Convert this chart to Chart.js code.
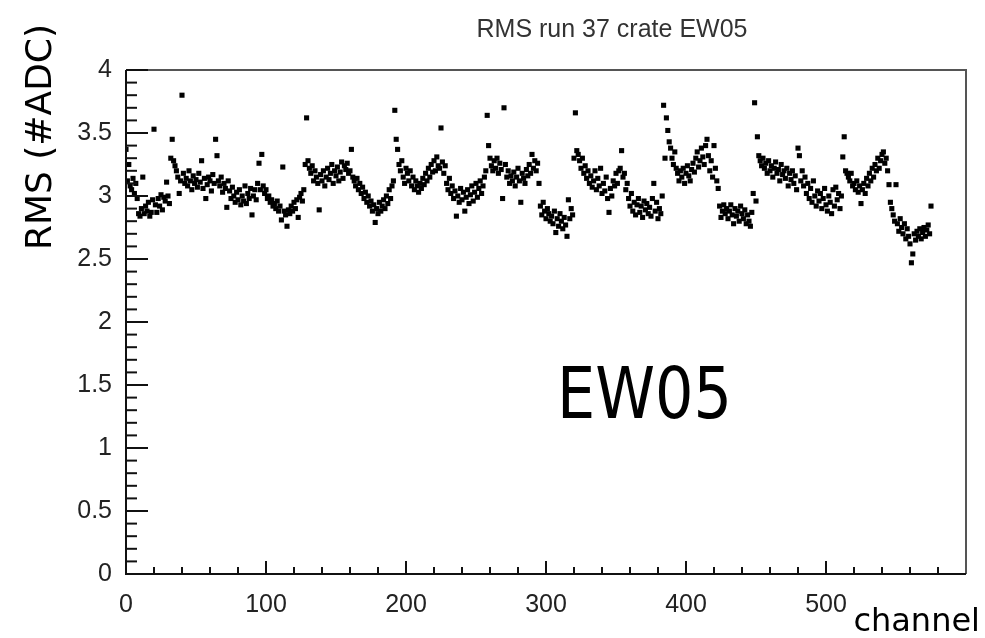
<!DOCTYPE html>
<html>
<head>
<meta charset="utf-8">
<script src="https://cdn.jsdelivr.net/npm/chart.js@4/dist/chart.umd.min.js"></script>
<style>
  html, body { margin: 0; padding: 0; background: #fff; }
  #wrap { width: 985px; height: 638px; }
</style>
</head>
<body>
<div id="wrap"><canvas id="rms"></canvas></div>
<script>
// RMS per channel in blocks of 32 channels
const seg0   = [3.37,3.12,3.25,3.08,3.05,3.14,3.02,3.10,2.98,2.86,2.84,2.90,3.15,2.86,2.92,2.88,2.95,2.84,2.87,2.97,3.53,2.93,2.87,2.98,2.92,3.01,2.89,2.99,2.96,3.11,3.00,2.94];
const seg32  = [3.30,3.45,3.28,3.24,3.20,3.15,3.02,3.12,3.80,3.18,3.10,3.14,3.08,3.20,3.12,3.05,3.16,3.10,3.13,3.07,3.18,3.11,3.28,3.06,3.14,2.98,3.09,3.15,3.12,3.04,3.17,3.10];
const seg64  = [3.45,3.32,3.12,3.08,3.15,3.03,3.10,3.06,2.91,3.12,3.04,2.98,3.07,3.00,2.95,3.03,2.97,3.05,2.93,3.00,2.96,3.08,2.94,3.02,2.98,3.06,2.85,3.00,3.05,2.97,3.10,3.26];
const seg96  = [3.05,3.33,3.08,3.02,3.05,2.98,3.00,2.95,2.97,2.92,2.94,2.90,2.96,2.88,2.92,2.81,3.23,2.88,2.85,2.76,2.89,2.86,2.92,2.88,2.95,2.90,2.97,2.83,2.99,3.02,2.96,3.05];
const seg128 = [3.25,3.62,3.28,3.22,3.18,3.24,3.12,3.20,3.15,3.10,2.89,3.17,3.12,3.20,3.08,3.15,3.22,3.13,3.18,3.25,3.10,3.20,3.16,3.23,3.12,3.19,3.27,3.14,3.24,3.21,3.26,3.18];
const seg160 = [3.20,3.37,3.15,3.12,3.08,3.14,3.05,3.10,3.02,3.07,2.98,3.03,2.95,3.00,2.92,2.96,2.88,2.93,2.79,2.90,2.86,2.95,2.88,2.92,2.97,2.90,3.00,2.94,3.05,2.98,3.08,3.12];
const seg192 = [3.68,3.45,3.37,3.25,3.20,3.28,3.15,3.10,3.22,3.18,3.12,3.20,3.08,3.15,3.05,3.12,3.08,3.03,3.10,3.06,3.14,3.09,3.18,3.12,3.22,3.15,3.25,3.19,3.28,3.20,3.31,3.24];
const seg224 = [3.22,3.54,3.27,3.18,3.24,3.10,3.05,3.14,3.02,3.08,2.98,3.04,2.84,3.00,2.95,3.06,2.97,3.03,2.88,2.99,3.05,2.94,3.01,3.08,2.96,3.03,3.10,2.99,3.06,3.12,3.02,3.08];
const seg256 = [3.15,3.20,3.64,3.40,3.30,3.24,3.20,3.28,3.22,3.30,3.18,3.26,3.21,2.98,3.70,3.25,3.15,3.20,3.10,3.16,3.12,3.19,3.08,3.15,3.22,3.12,2.95,3.18,3.14,3.10,3.21,3.16];
const seg288 = [3.25,3.18,3.33,3.22,3.28,3.20,3.26,3.10,2.92,2.85,2.95,2.88,2.82,2.90,2.86,2.80,2.84,2.78,2.88,2.71,2.82,2.76,2.86,2.80,2.74,2.83,2.77,2.68,2.97,2.82,2.90,2.85];
const seg320 = [3.30,3.66,3.36,3.33,3.28,3.22,3.30,3.18,3.24,3.14,3.20,3.10,3.16,3.07,3.12,3.20,3.05,3.14,3.08,3.22,3.02,3.10,3.04,3.15,2.98,2.87,3.06,3.00,3.12,3.08,3.18,3.10];
const seg352 = [3.20,3.22,3.36,3.15,3.18,3.05,3.10,2.98,2.92,3.02,2.88,2.95,2.85,2.93,2.98,2.87,2.92,2.83,2.96,2.89,2.94,2.86,2.91,2.84,2.98,3.10,2.88,2.95,2.82,2.90,2.86,3.00];
const seg384 = [3.72,3.30,3.62,3.52,3.43,3.38,3.30,3.25,3.35,3.22,3.18,3.12,3.20,3.15,3.22,3.10,3.18,3.24,3.16,3.12,3.21,3.26,3.19,3.30,3.35,3.23,3.28,3.38,3.31,3.25,3.40,3.45];
const seg416 = [3.32,3.20,3.28,3.15,3.40,3.22,3.12,3.06,2.92,2.83,2.88,2.93,2.86,2.90,2.82,2.88,2.93,2.85,2.78,2.90,2.84,2.88,2.80,2.92,2.86,2.82,2.89,2.78,2.85,2.80,2.76,2.87];
const seg448 = [3.02,3.74,2.96,3.47,3.32,3.28,3.24,3.30,3.22,3.26,3.18,3.28,3.20,3.24,3.15,3.22,3.27,3.18,3.21,3.12,3.25,3.17,3.20,3.14,3.22,3.08,3.18,3.13,3.20,3.10,3.16,3.05];
const seg480 = [3.38,3.32,3.12,3.20,3.08,3.15,3.02,3.10,2.98,3.06,2.95,3.12,3.00,2.92,3.04,2.96,3.02,2.90,2.98,3.06,2.93,2.88,3.00,2.95,2.86,3.05,2.92,3.07,2.97,3.02,2.90,3.00];
const seg512 = [3.31,3.47,3.20,3.18,3.15,3.12,3.18,3.08,3.10,3.05,3.12,3.03,3.08,2.94,3.05,3.10,3.02,3.14,3.08,3.18,3.12,3.22,3.15,3.25,3.20,3.30,3.22,3.28,3.33,3.35,3.26,3.30];
const seg544 = [3.20,3.09,2.95,2.90,2.85,2.80,3.09,2.78,2.72,2.82,2.75,2.70,2.78,2.66,2.74,2.68,2.62,2.47,2.54,2.70,2.65,2.72,2.68,2.74,2.66,2.71,2.75,2.68,2.73,2.77,2.70,2.92];

const segments = [seg0,seg32,seg64,seg96,seg128,seg160,seg192,seg224,seg256,seg288,seg320,seg352,seg384,seg416,seg448,seg480,seg512,seg544];
const rms = segments.flat();
const channels = rms.map((_, i) => i);

const xTicks = [0,100,200,300,400,500];
const yTicks = [0,0.5,1,1.5,2,2.5,3,3.5,4];
const titleText = 'RMS run 37 crate EW05';
const yTitle = 'RMS (#ADC)';
const xTitle = 'channel';
const tag = 'EW05';

// ROOT-like frame: ticks inside the frame, titles in odd places
const rootFrame = {
  id: 'rootFrame',
  afterDraw(chart) {
    const ctx = chart.ctx, a = chart.chartArea;
    const xs = chart.scales.x, ys = chart.scales.y;
    ctx.save();
    // frame
    ctx.strokeStyle = '#555';
    ctx.lineWidth = 2;
    ctx.beginPath();
    ctx.moveTo(a.left, a.top); ctx.lineTo(a.right, a.top); ctx.lineTo(a.right, a.bottom);
    ctx.stroke();
    ctx.strokeStyle = '#111';
    ctx.beginPath();
    ctx.moveTo(a.left, a.top); ctx.lineTo(a.left, a.bottom); ctx.lineTo(a.right, a.bottom);
    ctx.stroke();
    // x ticks
    for (let v = 0; v <= 580; v += 20) {
      const px = xs.getPixelForValue(v);
      const len = v % 100 === 0 ? 13 : 7;
      ctx.beginPath(); ctx.moveTo(px, a.bottom); ctx.lineTo(px, a.bottom - len); ctx.stroke();
    }
    // y ticks
    for (let k = 0; k <= 40; k++) {
      const py = ys.getPixelForValue(k / 10);
      const len = k % 5 === 0 ? 22 : 11;
      ctx.beginPath(); ctx.moveTo(a.left, py); ctx.lineTo(a.left + len, py); ctx.stroke();
    }
    // title
    ctx.fillStyle = '#333';
    ctx.font = '25px "Liberation Sans", Arial, sans-serif';
    ctx.textAlign = 'center'; ctx.textBaseline = 'alphabetic';
    ctx.fillText(titleText, 612, 37);
    // y title
    ctx.fillStyle = '#000';
    ctx.font = '36px "DejaVu Sans", sans-serif';
    ctx.save();
    ctx.translate(51, 137);
    ctx.rotate(-Math.PI / 2);
    ctx.textAlign = 'center';
    ctx.fillText(yTitle, 0, 0);
    ctx.restore();
    // x title
    ctx.font = '32px "DejaVu Sans", sans-serif';
    ctx.textAlign = 'right';
    ctx.fillText(xTitle, 980, 631);
    // big label
    ctx.save();
    ctx.translate(557, 418);
    ctx.scale(0.84, 1);
    ctx.font = '72px "DejaVu Sans", sans-serif';
    ctx.textAlign = 'left';
    ctx.fillText(tag, 0, 0);
    ctx.restore();
    ctx.restore();
  }
};

new Chart(document.getElementById('rms'), {
  type: 'scatter',
  data: {
    datasets: [{
      data: channels.map(i => ({ x: i, y: rms[i] })),
      backgroundColor: '#000',
      borderWidth: 0,
      pointStyle: 'rect',
      pointRadius: 3.6,
      pointHoverRadius: 3.6
    }]
  },
  options: {
    responsive: true,
    maintainAspectRatio: false,
    animation: false,
    events: [],
    layout: { padding: { left: 0, top: 70, right: 19, bottom: 0 } },
    plugins: { legend: { display: false }, tooltip: { enabled: false } },
    scales: {
      x: {
        type: 'linear', min: 0, max: 600,
        afterBuildTicks: s => { s.ticks = xTicks.map(v => ({ value: v })); },
        afterFit: s => { s.height = 64; },
        grid: { display: false }, border: { display: false },
        ticks: { color: '#222', font: { family: '"Liberation Sans", Arial, sans-serif', size: 25 }, padding: 8, maxRotation: 0, callback: v => String(v) }
      },
      y: {
        type: 'linear', min: 0, max: 4,
        afterBuildTicks: s => { s.ticks = yTicks.map(v => ({ value: v })); },
        afterFit: s => { s.width = 126; },
        grid: { display: false }, border: { display: false },
        ticks: { color: '#222', font: { family: '"Liberation Sans", Arial, sans-serif', size: 25 }, padding: 6, callback: v => String(v) }
      }
    }
  },
  plugins: [rootFrame]
});
</script>
</body>
</html>
